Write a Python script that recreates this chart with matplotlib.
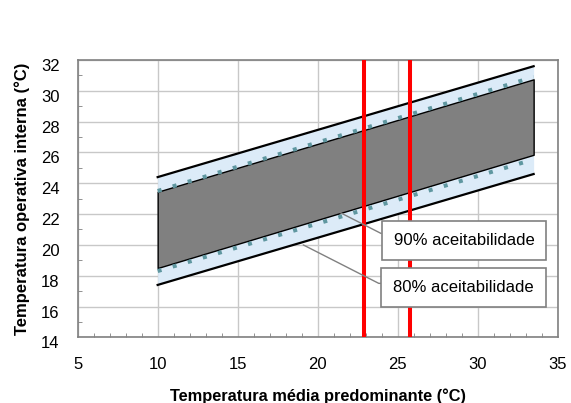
import numpy as np
import matplotlib.pyplot as plt
from matplotlib.transforms import ScaledTranslation

plt.rcParams['font.family'] = ['Liberation Sans', 'DejaVu Sans']

# adaptive comfort limits (ends of the straight lines)
t_mean = [10, 33.5]
upper80 = [24.4, 31.6]
lower80 = [17.4, 24.6]
upper90 = [23.45, 30.75]
lower90 = [18.5, 25.85]
dots_up = [23.5, 30.9]
dots_low = [18.3, 25.55]

red_x = [22.9, 25.8]

labels = ['90% aceitabilidade', '80% aceitabilidade']
label_pos = [(29.15, 20.28), (29.12, 17.21)]
leader_from = [(21.4, 22.1), (19.1, 20.0)]

fig = plt.figure(figsize=(5.71, 4.03), dpi=100)
ax = fig.add_axes([0.136, 0.163, 0.8406, 0.688])

ax.fill_between(t_mean, lower80, upper80, color='#dcebf8', lw=0, zorder=1)
ax.fill_between(t_mean, lower90, upper90, facecolor='#808080', edgecolor='black', lw=1.0, zorder=2)
ax.plot(t_mean, upper80, color='black', lw=1.6, zorder=3)
ax.plot(t_mean, lower80, color='black', lw=1.6, zorder=3)
for yy in (dots_up, dots_low):
    ax.plot(t_mean, yy, color='#5f97a0', lw=2.9, linestyle=(0, (1, 2.9)),
            dash_capstyle='butt', zorder=3)

for xv in red_x:
    ax.axvline(xv, color='#ff0000', lw=2.9, zorder=4)

for txt, pos, src in zip(labels, label_pos, leader_from):
    ax.annotate(txt, xy=src, xytext=pos, ha='center', va='center', fontsize=12,
                zorder=6,
                bbox=dict(boxstyle='square,pad=0.72', fc='white', ec='#808080', lw=1.2),
                arrowprops=dict(arrowstyle='-', color='#808080', lw=1.0,
                                relpos=(0, 0.8), shrinkA=0, shrinkB=0,
                                connectionstyle='angle,angleA=0,angleB=-27,rad=0'))

ax.set_xlim(5, 35)
ax.set_ylim(14, 32)
ax.set_xticks(np.arange(5, 36, 5))
ax.set_yticks(np.arange(14, 33, 2))
ax.set_xticks(np.arange(5, 36, 1), minor=True)
ax.set_yticks(np.arange(14, 33, 1), minor=True)
ax.grid(True, which='major', color='#c8c8c8', lw=1.0)
ax.set_axisbelow(True)
ax.tick_params(which='major', length=0, labelsize=12)
ax.tick_params(axis='x', which='major', pad=14)
ax.tick_params(axis='y', which='major', pad=13)
ax.tick_params(which='minor', direction='in', length=3, color='#808080')
for s in ax.spines.values():
    s.set_color('#808080')
    s.set_linewidth(1.2)

# y tick labels sit a little below their gridlines in the original
shift = ScaledTranslation(0, -5 / 100, fig.dpi_scale_trans)
for tk in ax.yaxis.get_major_ticks():
    tk.label1.set_transform(tk.label1.get_transform() + shift)

ax.set_xlabel('Temperatura média predominante (°C)', fontsize=11.8, fontweight='bold', labelpad=12)
ax.set_ylabel('Temperatura operativa interna (°C)', fontsize=12, fontweight='bold', labelpad=8)

fig.savefig('out.png', dpi=100)
